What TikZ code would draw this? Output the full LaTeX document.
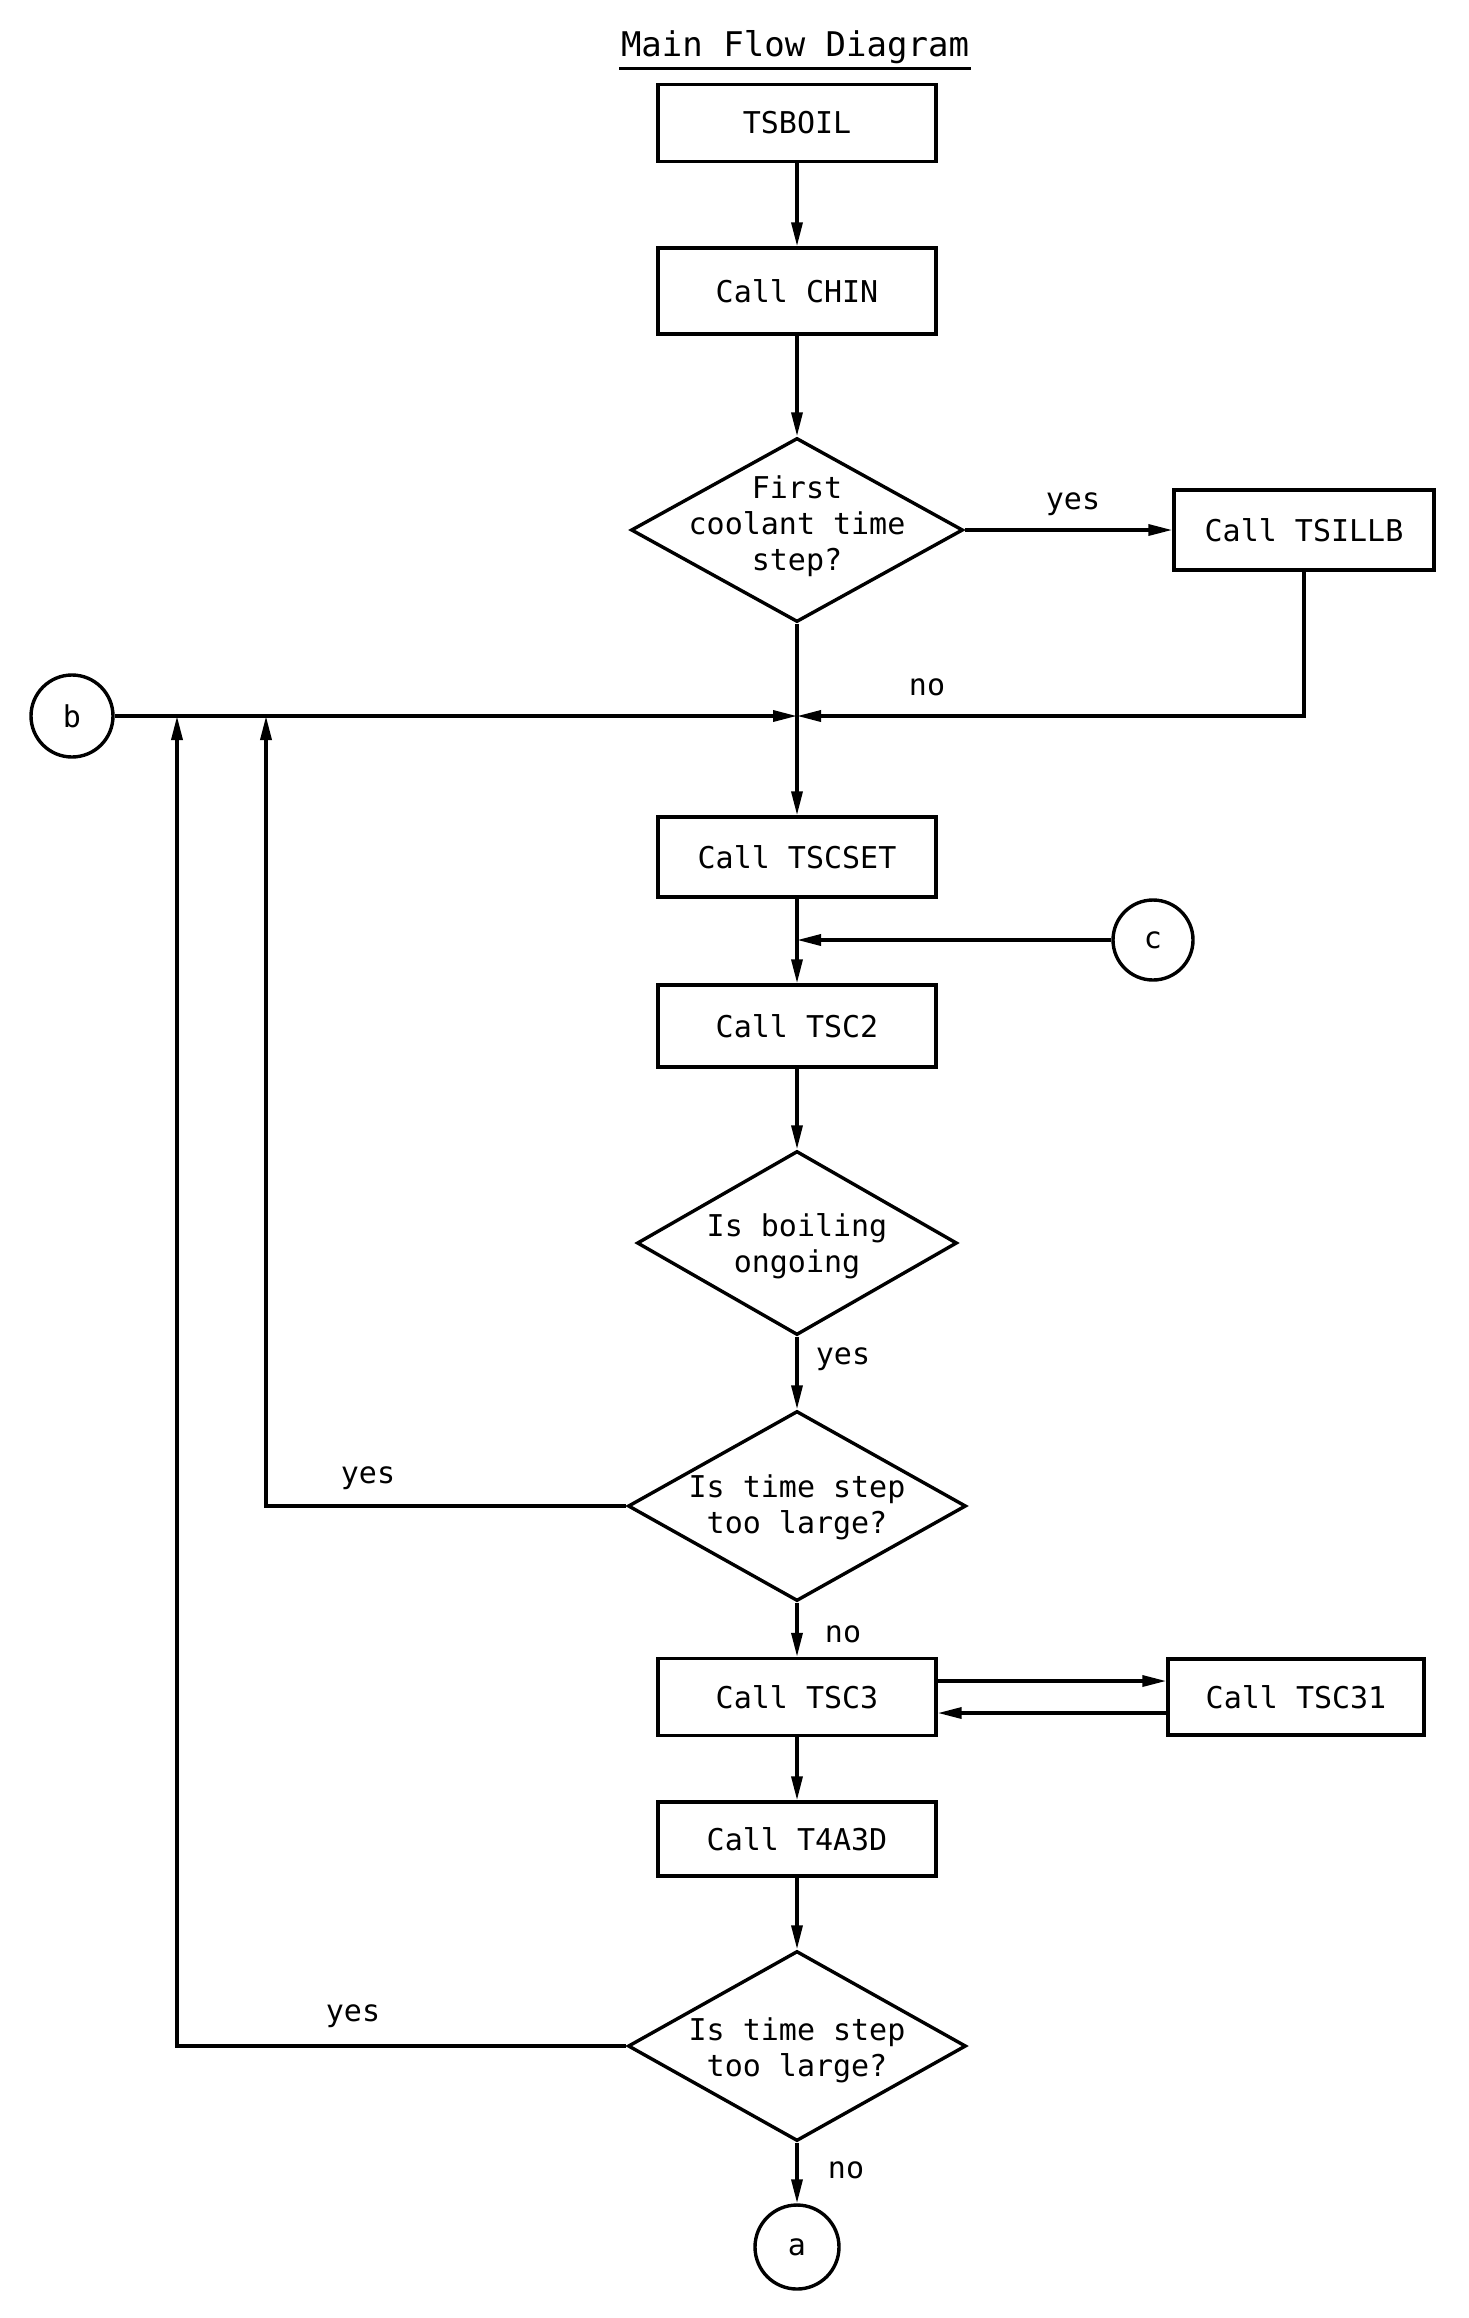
\documentclass[tikz,border=0pt]{standalone}
\usepackage{fontspec}
\setmonofont{DejaVu Sans Mono}
\usetikzlibrary{arrows.meta,shapes.geometric}
\begin{document}
\begin{tikzpicture}[x=0.5pt,y=-0.5pt,
  font=\ttfamily\fontsize{15}{18}\selectfont,
  line width=1.7pt,
  box/.style={draw, minimum width=139pt, minimum height=40pt, inner sep=0pt},
  dec/.style={draw, shape=diamond, inner sep=0pt},
  txt/.style={align=center, inner sep=0pt},
  conn/.style={draw, circle, minimum size=40pt, inner sep=0pt},
  arr/.style={-{Triangle[length=12pt,width=5.5pt]}},
  lbl/.style={inner sep=0pt}]
\useasboundingbox (0,0) rectangle (1468,2318);

% title
\node[inner sep=0pt] (title) at (795,47) {\fontsize{17}{20}\selectfont Main Flow Diagram};
\draw[line width=1.5pt] ([yshift=-1.5pt]title.south west) -- ([yshift=-1.5pt]title.south east);

% boxes
\node[box, minimum height=38.5pt] (tsboil) at (797,123) {TSBOIL};
\node[box, minimum height=43pt] (chin) at (797,291) {Call CHIN};
\node[dec, minimum width=166pt, minimum height=92pt] (d1) at (797,530) {};
\node[txt] (d1t) at (797,526) {First\\coolant time\\step?};
\node[box, minimum width=130pt] (tsillb) at (1304,530) {Call TSILLB};
\node[conn, minimum size=41pt] (b) at (72,716) {b};
\node[box] (tscset) at (797,857) {Call TSCSET};
\node[conn] (c) at (1153,940) {c};
\node[box, minimum height=41pt] (tsc2) at (797,1026) {Call TSC2};
\node[dec, minimum width=160pt, minimum height=92pt] (d2) at (797,1243) {};
\node[txt] (d2t) at (797,1246) {Is boiling\\ongoing};
\node[dec, minimum width=169pt, minimum height=95pt] (d3) at (797,1506) {};
\node[txt] (d3t) at (797,1507) {Is time step\\too large?};
\node[box, minimum height=38.5pt] (tsc3) at (797,1697) {Call TSC3};
\node[box, minimum width=128pt, minimum height=38pt] (tsc31) at (1296,1697) {Call TSC31};
\node[box, minimum height=37pt] (t4a3d) at (797,1839) {Call T4A3D};
\node[dec, minimum width=169pt, minimum height=95pt] (d4) at (797,2046) {};
\node[txt] (d4t) at (797,2050) {Is time step\\too large?};
\node[conn, minimum size=42pt] (a) at (797,2247) {a};

% junctions
\coordinate (j1) at (797,716);
\coordinate (j2) at (797,940);
\coordinate (r1) at (266,716);
\coordinate (r2) at (177,716);

% labels
\node[lbl] (l1) at (1073,504) {yes};
\node[lbl] (l2) at (927,687) {no};
\node[lbl] (l3) at (843,1359) {yes};
\node[lbl] (l4) at (368,1478) {yes};
\node[lbl] (l5) at (843,1634) {no};
\node[lbl] (l6) at (353,2016) {yes};
\node[lbl] (l7) at (846,2170) {no};

% connectors
\draw[arr] (tsboil) -- (chin);
\draw[arr] (chin) -- (d1);
\draw[arr] (d1.east) -- (tsillb.west);
\draw[arr] (d1.south) -- (tscset.north);
\draw[arr] (tsillb.south) |- (j1);
\draw[arr] (b.east) -- (j1);
\draw[arr] (d3.west) -| (r1);
\draw[arr] (d4.west) -| (r2);
\draw[arr] (tscset) -- (tsc2);
\draw[arr] (c.west) -- (j2);
\draw[arr] (tsc2) -- (d2);
\draw[arr] (d2) -- (d3);
\draw[arr] (d3) -- (tsc3);
\draw[arr] ([yshift=8pt]tsc3.east) -- ([yshift=8pt]tsc31.west);
\draw[arr] ([yshift=-8pt]tsc31.west) -- ([yshift=-8pt]tsc3.east);
\draw[arr] (tsc3) -- (t4a3d);
\draw[arr] (t4a3d) -- (d4);
\draw[arr] (d4) -- (a);
\end{tikzpicture}
\end{document}
